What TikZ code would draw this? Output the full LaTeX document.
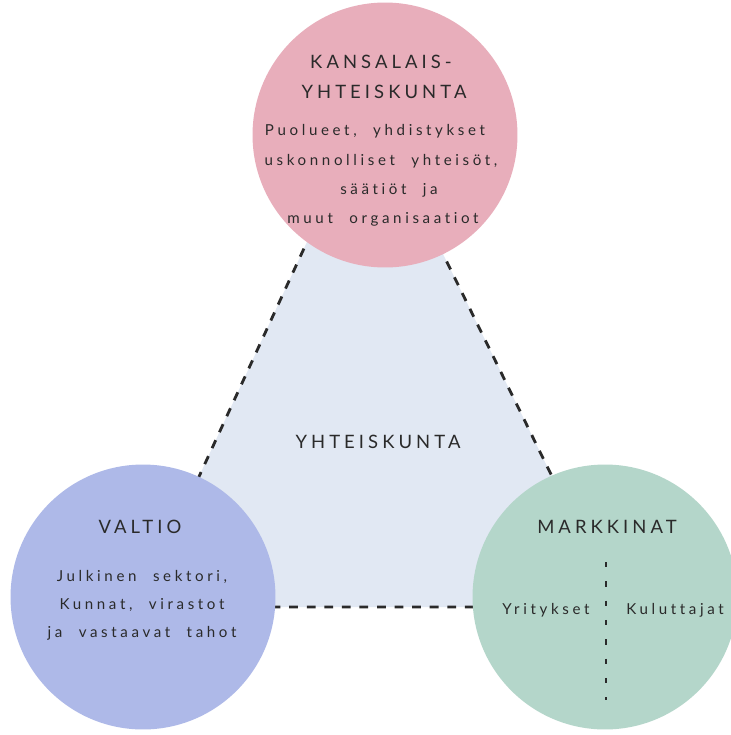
\documentclass[tikz,border=0pt]{standalone}
\usepackage{fontspec}
\setmainfont{Lato}
\newfontfamily\titlefont[LetterSpace=22,Ligatures=NoCommon]{Lato}
\newfontfamily\bodyfont[LetterSpace=24,Ligatures=NoCommon,WordSpace=2.2]{Lato}
\definecolor{pinkc}{HTML}{E8AEBB}
\definecolor{bluec}{HTML}{AEB9E8}
\definecolor{greenc}{HTML}{B4D6CA}
\definecolor{trifill}{HTML}{E1E8F3}
\definecolor{ink}{HTML}{2A2A2A}
\tikzset{
  blob/.style={circle, inner sep=0pt, minimum size=5.3cm},
  ttl/.style={font=\titlefont\fontsize{10.5}{12}\selectfont, text=ink, inner sep=0pt},
  body/.style={font=\bodyfont\fontsize{8.6}{10}\selectfont, text=ink, inner sep=0pt},
  tridash/.style={draw=ink, line width=1.6pt, dash pattern=on 5pt off 5pt},
  splitdash/.style={draw=ink, line width=1.2pt, dash pattern=on 3pt off 8pt},
}
\begin{document}
\begin{tikzpicture}[x=0.02cm, y=-0.02cm]
\useasboundingbox[fill=white] (0,0) rectangle (731,735);
% triangle
\coordinate (ta) at (370,105);
\coordinate (tb) at (139,607);
\coordinate (tc) at (616,607);
\fill[trifill] (ta) -- (tb) -- (tc) -- cycle;
\draw[tridash] (ta) -- (tb) -- (tc) -- cycle;
% circles
\node[blob, fill=pinkc] (kansa) at (385,135) {};
\node[blob, fill=bluec] (valtio) at (143,597) {};
\node[blob, fill=greenc] (markk) at (605,597) {};
% center label
\node[ttl] (yht) at (378,442) {YHTEISKUNTA};
% pink texts
\node[ttl] (k1) at (381,62) {KANSALAIS-};
\node[ttl] (k2) at (384,92) {YHTEISKUNTA};
\node[body] (k3) at (375,131) {Puolueet, yhdistykset};
\node[body] (k4) at (381,161) {uskonnolliset yhteisöt,};
\node[body] (k5) at (389,190) {säätiöt ja};
\node[body] (k6) at (383,219) {muut organisaatiot};
% blue texts
\node[ttl] (v1) at (140,527) {VALTIO};
\node[body] (v2) at (142,577) {Julkinen sektori,};
\node[body] (v3) at (142,605) {Kunnat, virastot};
\node[body] (v4) at (142,633) {ja vastaavat tahot};
% green texts
\node[ttl] (m1) at (607,527) {MARKKINAT};
\node[body] (m2) at (546,610) {Yritykset};
\node[body] (m3) at (675,610) {Kuluttajat};
\coordinate (s1) at (606,562);
\coordinate (s2) at (606,700);
\draw[splitdash] (s1) -- (s2);
\end{tikzpicture}
\end{document}
